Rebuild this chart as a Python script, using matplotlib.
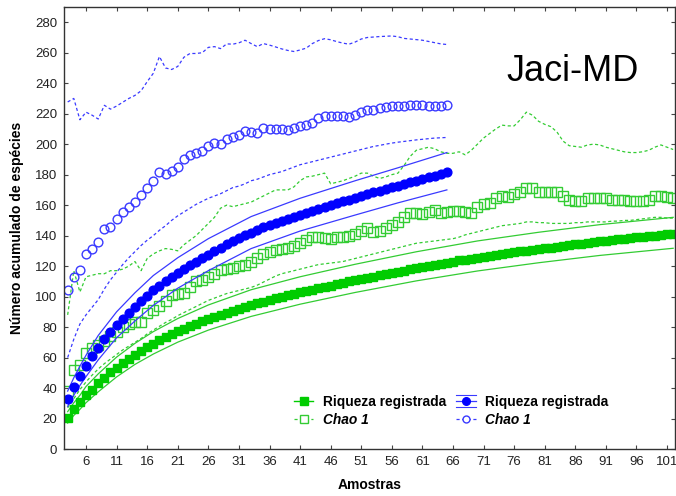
import numpy as np
import matplotlib
matplotlib.use("Agg")
import matplotlib.pyplot as plt
from matplotlib.lines import Line2D
from matplotlib.legend_handler import HandlerLine2D

plt.rcParams["font.family"] = ["Liberation Sans", "DejaVu Sans"]

# samples (x axis)
samples_green = np.arange(3, 103)
samples_blue = np.arange(3, 66)

# green: observed richness (filled squares)
green_obs = [20.5, 26.0, 30.6, 35.4, 39.0, 43.0, 46.8, 50.3, 53.3, 56.2,
             59.0, 61.8, 64.3, 66.9, 69.0, 71.2, 73.2, 75.2, 77.1, 78.9,
             80.6, 82.2, 83.8, 85.3, 86.7, 88.1, 89.5, 90.8, 92.1, 93.3,
             94.5, 95.6, 96.7, 97.8, 98.8, 99.8, 100.8, 101.8, 102.7, 103.6,
             104.5, 105.4, 106.3, 107.2, 108.1, 109.0, 109.9, 110.7, 111.5, 112.3,
             113.1, 113.9, 114.7, 115.5, 116.3, 117.1, 117.9, 118.7, 119.5, 120.2,
             120.9, 121.6, 122.3, 123.0, 123.7, 124.3, 124.9, 125.5, 126.1, 126.7,
             127.3, 127.9, 128.5, 129.1, 129.7, 130.2, 130.7, 131.2, 131.7, 132.2,
             132.7, 133.2, 133.7, 134.2, 134.7, 135.2, 135.7, 136.2, 136.7, 137.2,
             137.6, 138.0, 138.4, 138.8, 139.2, 139.6, 140.0, 140.4, 140.8, 141.2]

# green: Chao 1 (open squares) and its dashed bounds
green_chao = [38, 52, 55, 63, 66, 68, 71, 74, 77, 80,
              82, 83, 83.5, 89, 91, 94, 97, 101, 102, 102.5,
              106, 110, 111, 113, 115, 117.5, 118, 119, 120, 121,
              122.5, 125, 128, 129, 130.5, 131, 132, 133, 135, 137,
              139, 139, 138.5, 138, 139, 139, 140, 141, 143, 145,
              142.5, 143, 145, 147, 149, 152, 155, 155, 154.5, 155.5,
              156.5, 155, 155.5, 156, 156, 155.5, 155, 158.5, 160.5, 161.5,
              165, 166, 165.5, 167.5, 168.5, 171.5, 171, 168.5, 168.5, 168.5,
              168.5, 166, 163.5, 163, 163, 164.5, 164.5, 164.5, 164.5, 163.5,
              163.5, 163.5, 163, 163, 163, 163.5, 166, 166, 165.5, 164.5]

green_chao_hi = [88, 117, 103, 113, 114, 115, 115, 117, 117, 118,
                 120, 123, 117, 125, 128, 130, 131.5, 131, 130, 134,
                 137, 140, 144, 148, 152, 158, 160, 159, 160, 161,
                 162, 164, 166, 168, 170, 170, 170, 172, 176, 178.5,
                 179, 180, 181, 174, 175, 176, 177.5, 179, 181, 181,
                 179, 177.5, 178.5, 180, 181, 186, 192, 196, 197, 198,
                 197, 195, 194, 194, 195, 193, 196, 200, 204, 207,
                 210, 212.5, 212, 212, 216, 221, 219, 215, 213, 211.5,
                 208, 202, 199, 198.5, 198, 199.5, 200, 199.5, 198, 197,
                 196, 195, 194.5, 194.5, 195, 196, 198, 199.5, 198, 196.5]

green_chao_lo = [27, 33, 39, 44, 48.5, 52.5, 56, 59, 62, 65,
                 67.5, 70, 72.5, 75.5, 78, 80.5, 83, 85, 87.5, 89.5,
                 91.5, 93.5, 95.5, 97.5, 99, 100.5, 102, 103, 104, 105,
                 106, 107.5, 109.5, 111.5, 113.5, 115, 116, 117, 118, 119,
                 120, 121, 121.5, 122, 122.5, 123, 124, 125, 126, 127,
                 128, 129, 130, 131, 132, 133, 134, 135, 135.5, 136,
                 136.5, 137, 137.5, 138, 139, 140.5, 141.5, 142.5, 143.5, 144.5,
                 145.5, 146.5, 147, 147.5, 148, 149, 149, 148.5, 148.5, 148,
                 148, 148, 148, 148.5, 148.5, 149, 149, 149, 149, 149.5,
                 149.5, 150, 150, 150.5, 151, 151.5, 152, 152, 151.5, 151.5]

# green: confidence bounds of observed richness
ci_x_green = [3, 4, 5, 6, 8, 11, 14, 17, 21, 26, 33, 41, 50, 60, 70, 80, 90, 102]
green_ci_hi = [24.5, 30.3, 35.2, 41, 49.3, 60.3, 69.3, 77, 85.6, 94.5, 104.5, 113,
               121.2, 129.4, 136.5, 142.2, 147.2, 152]
green_ci_lo = [17, 22, 26, 30.4, 37.5, 47.3, 55.5, 62.3, 70.1, 78, 87, 95,
               102.7, 110.3, 116.8, 122.2, 127, 131.7]

# blue: observed richness (filled circles)
blue_obs = [33, 41, 48, 54.5, 61, 66.5, 72, 77, 81.5, 85.5,
            89.5, 93.3, 97, 100.5, 104, 107, 110, 112.8, 115.5, 118,
            120.5, 123, 125.3, 127.5, 129.8, 132.2, 134.3, 136.3, 138.3, 140.2,
            142, 143.8, 145.4, 146.9, 148.3, 149.7, 151.1, 152.4, 153.7, 155,
            156.3, 157.6, 158.8, 160, 161.2, 162.4, 163.6, 164.8, 166, 167.2,
            168.4, 169.5, 170.6, 171.7, 172.8, 173.9, 175, 176.1, 177.2, 178.3,
            179.4, 180.5, 181.6]

# blue: Chao 1 (open circles) and its dashed bounds
blue_chao = [104, 113, 117.5, 128, 131.5, 135.5, 144.5, 145.5, 151, 155.5,
             159, 162, 166.5, 171.5, 176, 182, 180.5, 182.3, 184.7, 190,
             192.8, 194.3, 195.2, 199, 200.9, 200, 203.5, 204.6, 205.9, 208.6,
             208, 207.4, 210.3, 209.8, 210, 210, 209.2, 210.3, 212.2, 212.5,
             214, 217.5, 218.6, 218.8, 218.4, 218.4, 217.9, 219, 221.2, 222.7,
             222.3, 224, 224.5, 224.9, 224.9, 224.9, 225.4, 225.4, 225.4, 224.9,
             225.2, 224.9, 225.4]

blue_chao_hi = [227.7, 230, 216, 221, 219, 216.5, 225.5, 223, 225, 227.5,
                230, 232, 235, 241, 246.5, 257.5, 250, 249, 251, 257,
                259.5, 259.5, 260, 263.5, 264, 262.7, 265.8, 265.6, 266.5, 268.2,
                266, 264, 266, 265, 263.8, 262.5, 261.5, 260.8, 261.8, 263,
                266, 268, 269.2, 268.5, 267.3, 266.3, 265.6, 267, 269, 270,
                270.3, 270.6, 270.8, 271, 270.5, 269.4, 269, 268.6, 268.2, 267.4,
                266.6, 265.8, 265.4]

blue_chao_lo = [60, 72, 82, 88, 93, 98, 105, 111, 116, 121,
                125.5, 129.5, 133.5, 137, 140, 143.5, 146.5, 150, 153, 155.5,
                158, 160.5, 162.5, 164.5, 166, 167.5, 169.5, 171.5, 172.5, 174,
                176, 177, 178.5, 180, 181, 182, 183.5, 185, 186.5, 187.5,
                188.5, 189.5, 190.5, 191.5, 192.5, 193.5, 194.5, 195.5, 196.5, 197.5,
                198.5, 199.2, 200, 200.7, 201.3, 201.8, 202.3, 202.8, 203.2, 203.6,
                204, 204.2, 204.4]

# blue: confidence bounds of observed richness
ci_x_blue = [3, 4, 5, 6, 8, 11, 14, 17, 21, 26, 33, 41, 50, 57, 65]
blue_ci_hi = [38, 46.7, 54.3, 61.5, 74.5, 90, 102.5, 113.8, 125.5, 138, 152.5,
              164.5, 176, 184.5, 194.5]
blue_ci_lo = [28, 35.3, 41.7, 47.5, 58.5, 73, 84, 94.2, 105.5, 117, 131.5,
              143, 153.5, 161.5, 170]

x_ticks = [6, 11, 16, 21, 26, 31, 36, 41, 46, 51, 56, 61, 66, 71, 76, 81, 86, 91, 96, 101]
y_ticks = [0, 20, 40, 60, 80, 100, 120, 140, 160, 180, 200, 220, 240, 260, 280]

GREEN = "#00cc00"
GREEN_L = "#33cc33"
BLUE = "#0000ff"
BLUE_L = "#3a3aff"
dash = (0, (2.5, 2))


class HandlerBand(HandlerLine2D):
    # line + marker with two thin lines above and below (CI)
    def create_artists(self, legend, orig_handle, xdescent, ydescent,
                       width, height, fontsize, trans):
        arts = super().create_artists(legend, orig_handle, xdescent, ydescent,
                                      width, height, fontsize, trans)
        yc = (height - ydescent) / 2.0
        for dy in (-0.6 * height, 0.6 * height):
            ln = Line2D([-xdescent, -xdescent + width], [yc + dy, yc + dy],
                        color=BLUE_L, lw=0.8, transform=trans)
            arts.append(ln)
        return arts


fig = plt.figure(figsize=(6.76, 4.96), dpi=100)
ax = fig.add_axes([64 / 676, 47 / 496, 611 / 676, 442 / 496])

# green series
ax.plot(ci_x_green, green_ci_hi, color=GREEN_L, lw=0.9)
ax.plot(ci_x_green, green_ci_lo, color=GREEN_L, lw=0.9)
ax.plot(samples_green, green_chao_hi, color=GREEN_L, lw=0.9, ls=dash)
ax.plot(samples_green, green_chao_lo, color=GREEN_L, lw=0.9, ls=dash)
ax.plot(samples_green, green_chao, ls="none", marker="s", ms=6.5,
        mfc="none", mec=GREEN_L, mew=1.0)
ax.plot(samples_green, green_obs, ls="none", marker="s", ms=6.3,
        color=GREEN, mec=GREEN)

# blue series
ax.plot(ci_x_blue, blue_ci_hi, color=BLUE_L, lw=0.9)
ax.plot(ci_x_blue, blue_ci_lo, color=BLUE_L, lw=0.9)
ax.plot(samples_blue, blue_chao_hi, color=BLUE_L, lw=0.9, ls=dash)
ax.plot(samples_blue, blue_chao_lo, color=BLUE_L, lw=0.9, ls=dash)
ax.plot(samples_blue, blue_chao, ls="none", marker="o", ms=6.3,
        mfc="none", mec=BLUE_L, mew=1.0)
ax.plot(samples_blue, blue_obs, ls="none", marker="o", ms=6.3,
        color=BLUE, mec=BLUE)

ax.set_xlim(2.4, 102.3)
ax.set_ylim(0, 290)
ax.set_xticks(x_ticks)
ax.set_yticks(y_ticks)
ax.tick_params(direction="in", length=3, top=True, right=True,
               labelsize=9.5, labelcolor="#222222", color="#444444")
ax.tick_params(axis="y", pad=5)
ax.tick_params(axis="x", pad=5)
for sp in ax.spines.values():
    sp.set_color("#333333")
    sp.set_linewidth(1.0)

ax.set_ylabel("Número acumulado de espécies", fontsize=10, fontweight="bold",
              labelpad=8)
ax.set_xlabel("Amostras", fontsize=10, fontweight="bold", labelpad=7)

ax.text(0.832, 0.855, "Jaci-MD", transform=ax.transAxes, fontsize=26,
        ha="center", va="center", color="black")

# legend with proxy handles
h_g1 = Line2D([], [], color=GREEN, lw=1, marker="s", ms=6)
h_g2 = Line2D([], [], color=GREEN_L, lw=0.9, ls=dash, marker="s", ms=6,
              mfc="white", mec=GREEN_L)
h_b1 = Line2D([], [], color=BLUE_L, lw=0.9, marker="o", ms=5.5, mfc=BLUE, mec=BLUE)
h_b2 = Line2D([], [], color=BLUE_L, lw=0.9, ls=dash, marker="o", ms=5,
              mfc="white", mec=BLUE_L)
leg = ax.legend([h_g1, h_g2, h_b1, h_b2],
                ["Riqueza registrada", "Chao 1", "Riqueza registrada", "Chao 1"],
                ncol=2, frameon=False, loc="upper left",
                bbox_to_anchor=(294 / 676, 1 - 395 / 496),
                bbox_transform=fig.transFigure, borderpad=0, borderaxespad=0,
                handlelength=1.4, handletextpad=0.7, columnspacing=0.75,
                labelspacing=0.28, prop={"size": 9.9, "weight": "bold"},
                handler_map={h_b1: HandlerBand()})
for i, t in enumerate(leg.get_texts()):
    if i in (1, 3):
        t.set_fontstyle("italic")

fig.savefig("out.png", dpi=100)
